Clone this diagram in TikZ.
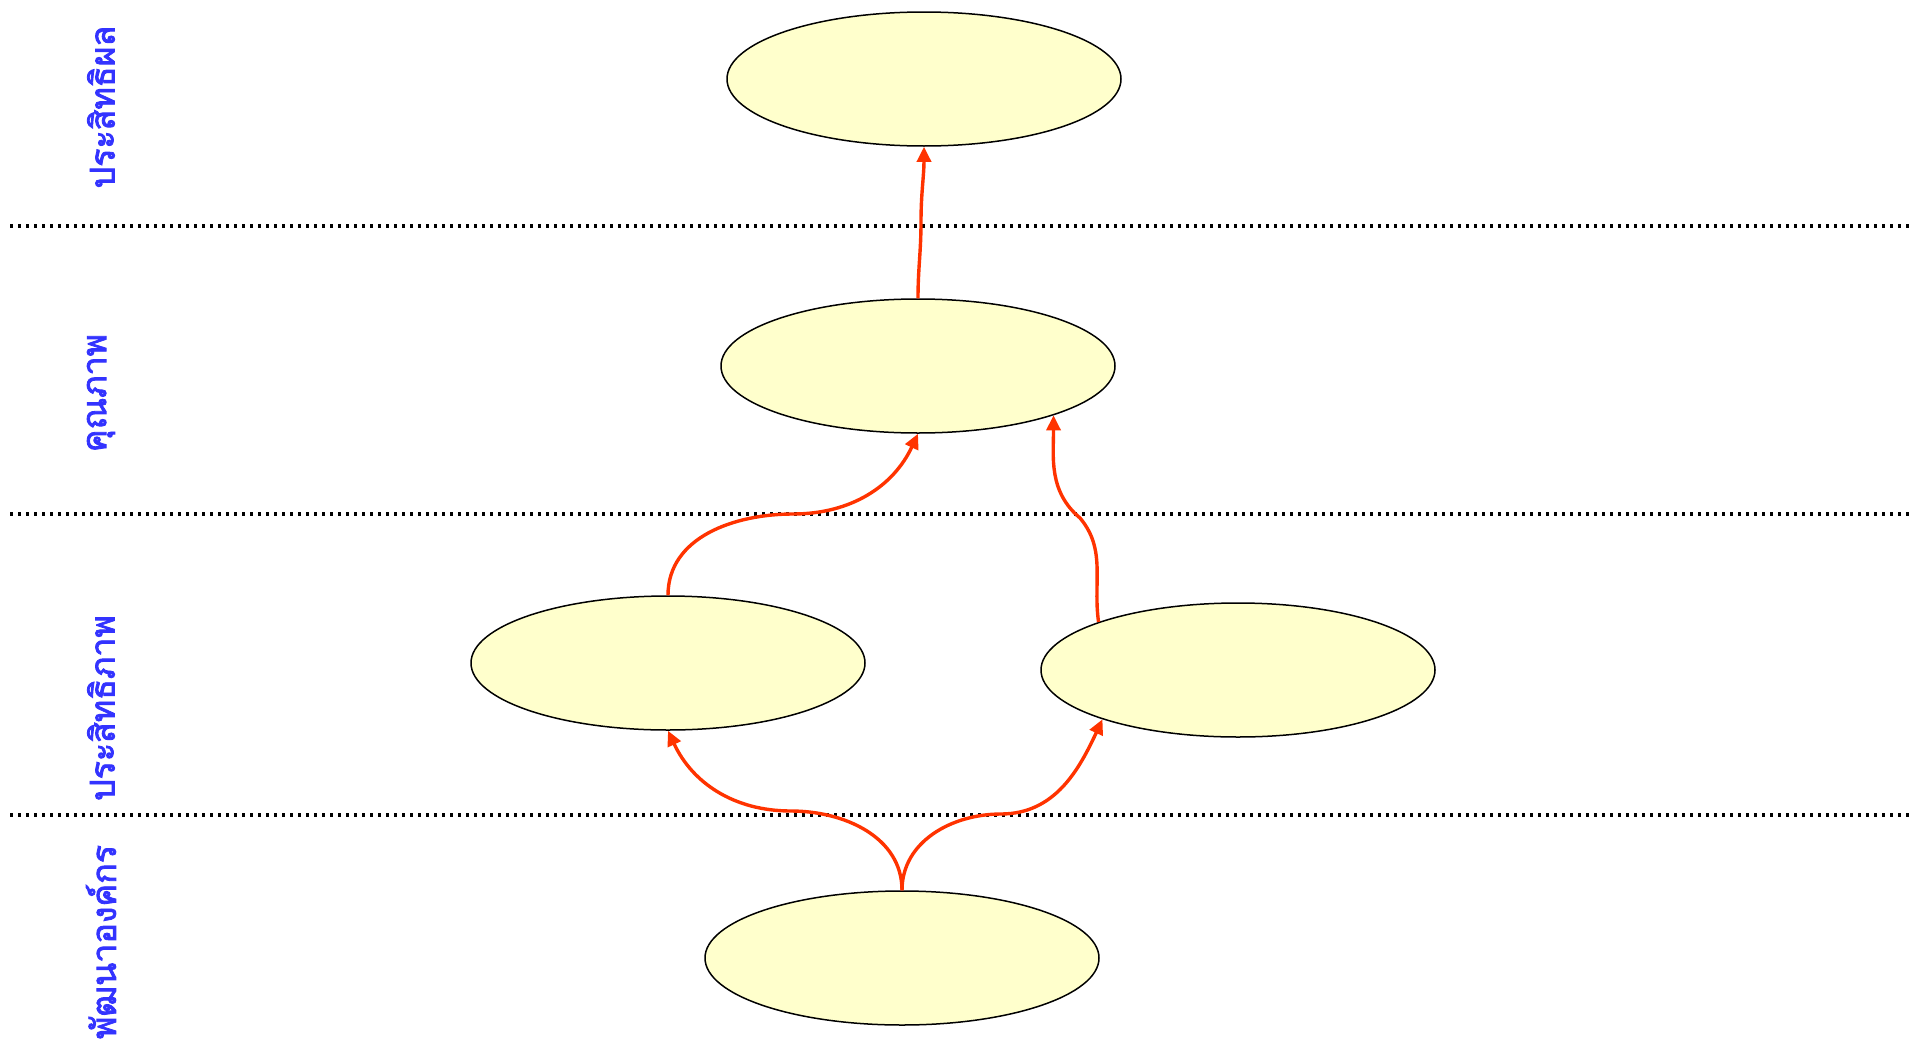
\documentclass[tikz,border=0pt]{standalone}
\usepackage{fontspec}
\newfontfamily\thaifont[Script=Thai,AutoFakeBold=2.5]{Loma}
\usetikzlibrary{shapes.geometric,arrows.meta}
\definecolor{ovalfill}{HTML}{FFFFCC}
\definecolor{linkred}{HTML}{FF3300}
\definecolor{levelblue}{HTML}{3333FF}
\begin{document}
\begin{tikzpicture}[x=1pt,y=-1pt,
        oval/.style={ellipse,draw,fill=ovalfill,line width=1.5pt,minimum width=394pt,minimum height=134pt,inner sep=0pt},
        level/.style={rotate=90,text=levelblue,font=\thaifont\bfseries\fontsize{34}{38}\selectfont},
        divider/.style={line width=3.2pt,dash pattern=on 3.2pt off 4.8pt},
        link/.style={linkred,line width=3.4pt,-{Triangle[length=15pt,width=14pt]}}]
        \useasboundingbox (0,0) rectangle (1914,1044);
        \draw[divider](10,226) -- (1914,226);
        \draw[divider](10,514) -- (1914,514);
        \draw[divider](10,815) -- (1914,815);
        \node[level] (effect) at (101,107) {ประสิทธิผล};
        \node[level] (quality) at (101,393) {คุณภาพ};
        \node[level] (effic) at (101,708) {ประสิทธิภาพ};
        \node[level] (orgdev) at (101,942) {พัฒนาองค์กร};
        \node[oval] (top) at (924,79) {};
        \node[oval] (mid) at (918,366) {};
        \node[oval] (left) at (668,663) {};
        \node[oval] (right) at (1238,670) {};
        \node[oval] (base) at (902,958) {};
        \coordinate (j1) at (921,222);
        \coordinate (j2) at (793,514);
        \coordinate (j3) at (1080,518);
        \coordinate (j4) at (791,811);
        \coordinate (j5) at (1001,814);
        \draw[link](mid.north) to[out=90,in=-90] (j1) to[out=90,in=-90] (top.south);
        \draw[link](left.north) to[out=90,in=180] (j2) to[out=0,in=-115] (mid.south);
        \draw[link](right.161) to[out=98,in=-50] (j3) to[out=140,in=-90] (mid.-20);
        \draw[link](base.north) to[out=90,in=0] (j4) to[out=180,in=-65] (left.south);
        \draw[link](base.north) to[out=90,in=180] (j5) to[out=0,in=-115] (right.-160);
    \end{tikzpicture}
\end{document}
